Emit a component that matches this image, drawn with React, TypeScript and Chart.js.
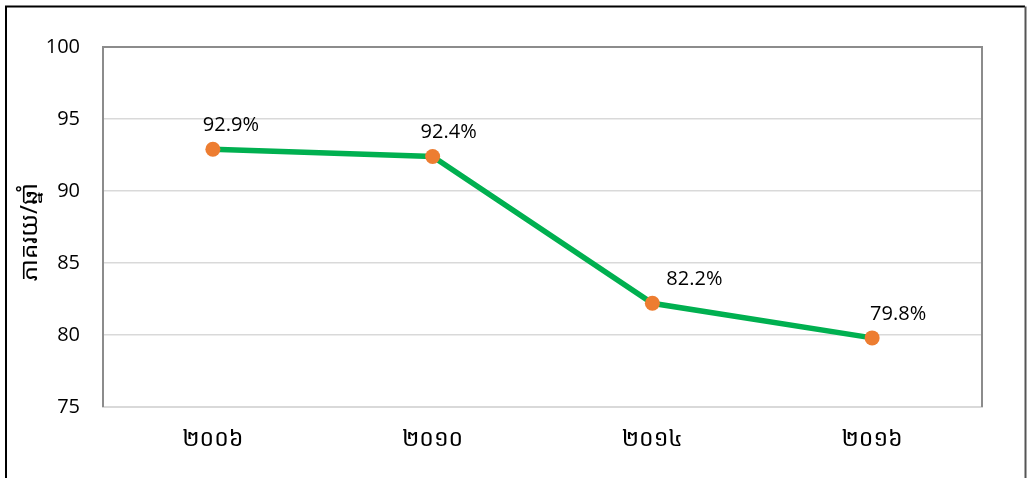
import React, { useEffect, useRef } from "react";
import { Chart, registerables } from "chart.js";

Chart.register(...registerables);

const categories: string[] = ["២០០៦", "២០១០", "២០១៤", "២០១៦"];
const values: number[] = [92.9, 92.4, 82.2, 79.8];
const valueLabels: string[] = ["92.9%", "92.4%", "82.2%", "79.8%"];
const yTitle = "ភាគរយ/ឆ្នាំ";

const NUM_FONT = "'Open Sans', 'Liberation Sans', sans-serif";
const KH_FONT = "'Noto Sans Khmer', 'Khmer OS', 'DejaVu Sans', sans-serif";

const framePlugin = {
  id: "frame",
  beforeDraw(chart: any) {
    const { ctx, width, height } = chart;
    ctx.save();
    ctx.fillStyle = "#ffffff";
    ctx.fillRect(0, 0, width, height);
    ctx.restore();
  },
  beforeDatasetsDraw(chart: any) {
    const { ctx, chartArea } = chart;
    const { left, right, top, bottom } = chartArea;
    ctx.save();
    ctx.strokeStyle = "#8c8c8c";
    ctx.lineWidth = 2;
    ctx.beginPath();
    ctx.moveTo(left, bottom);
    ctx.lineTo(left, top);
    ctx.lineTo(right, top);
    ctx.lineTo(right, bottom);
    ctx.stroke();
    ctx.restore();
  },
  afterDraw(chart: any) {
    const { ctx, width, chartArea } = chart;
    ctx.save();
    ctx.strokeStyle = "#000000";
    ctx.lineWidth = 2;
    ctx.beginPath();
    ctx.moveTo(6, 500);
    ctx.lineTo(6, 6.5);
    ctx.lineTo(width - 2, 6.5);
    ctx.stroke();
    ctx.strokeStyle = "#555555";
    ctx.beginPath();
    ctx.moveTo(width - 1.5, 6.5);
    ctx.lineTo(width - 1.5, 500);
    ctx.stroke();
    ctx.translate(30, (chartArea.top + chartArea.bottom) / 2 + 5);
    ctx.rotate(-Math.PI / 2);
    ctx.fillStyle = "#000000";
    ctx.font = `24px ${KH_FONT}`;
    ctx.textAlign = "center";
    ctx.textBaseline = "middle";
    ctx.fillText(yTitle, 0, 0);
    ctx.restore();
  },
};

const labelOffsetsX = [18, 16, 42, 26];

const labelPlugin = {
  id: "valueLabels",
  afterDatasetsDraw(chart: any) {
    const { ctx } = chart;
    const meta = chart.getDatasetMeta(0);
    ctx.save();
    ctx.fillStyle = "#000000";
    ctx.font = `20px ${NUM_FONT}`;
    ctx.textAlign = "center";
    ctx.textBaseline = "middle";
    meta.data.forEach((pt: any, i: number) => {
      ctx.fillText(valueLabels[i], pt.x + labelOffsetsX[i], pt.y - 24);
    });
    ctx.restore();
  },
};

export default function App() {
  const ref = useRef<HTMLCanvasElement | null>(null);

  useEffect(() => {
    if (!ref.current) return;
    const chart = new Chart(ref.current, {
      type: "line",
      data: {
        labels: categories,
        datasets: [
          {
            data: values,
            borderColor: "#00B050",
            borderWidth: 5.5,
            pointBackgroundColor: "#ED7D31",
            pointBorderColor: "#ED7D31",
            pointRadius: 7.5,
            pointBorderWidth: 0,
            tension: 0,
          },
        ],
      },
      options: {
        animation: false,
        responsive: false,
        maintainAspectRatio: false,
        layout: { padding: { left: 0, top: 47, right: 45, bottom: 0 } },
        plugins: {
          legend: { display: false },
          tooltip: { enabled: false },
        },
        scales: {
          x: {
            offset: true,
            afterFit: (s: any) => {
              s.height = 71;
            },
            grid: { display: false, drawTicks: false },
            border: { display: true, color: "#d9d9d9", width: 2 },
            ticks: {
              padding: 19,
              color: "#000000",
              font: { size: 23, family: KH_FONT },
            },
          },
          y: {
            min: 75,
            max: 100,
            afterFit: (s: any) => {
              s.width = 103;
            },
            grid: { color: "#d9d9d9", lineWidth: 1.5, drawTicks: false },
            border: { display: false },
            ticks: {
              stepSize: 5,
              padding: 23,
              color: "#000000",
              font: { size: 20, family: NUM_FONT },
            },
          },
        },
      },
      plugins: [framePlugin, labelPlugin],
    });
    return () => chart.destroy();
  }, []);

  return (
    <div style={{ position: "fixed", left: 0, top: 0, width: 1027, height: 478, background: "#fff" }}>
      <canvas ref={ref} width={1027} height={478} style={{ display: "block" }} />
    </div>
  );
}
